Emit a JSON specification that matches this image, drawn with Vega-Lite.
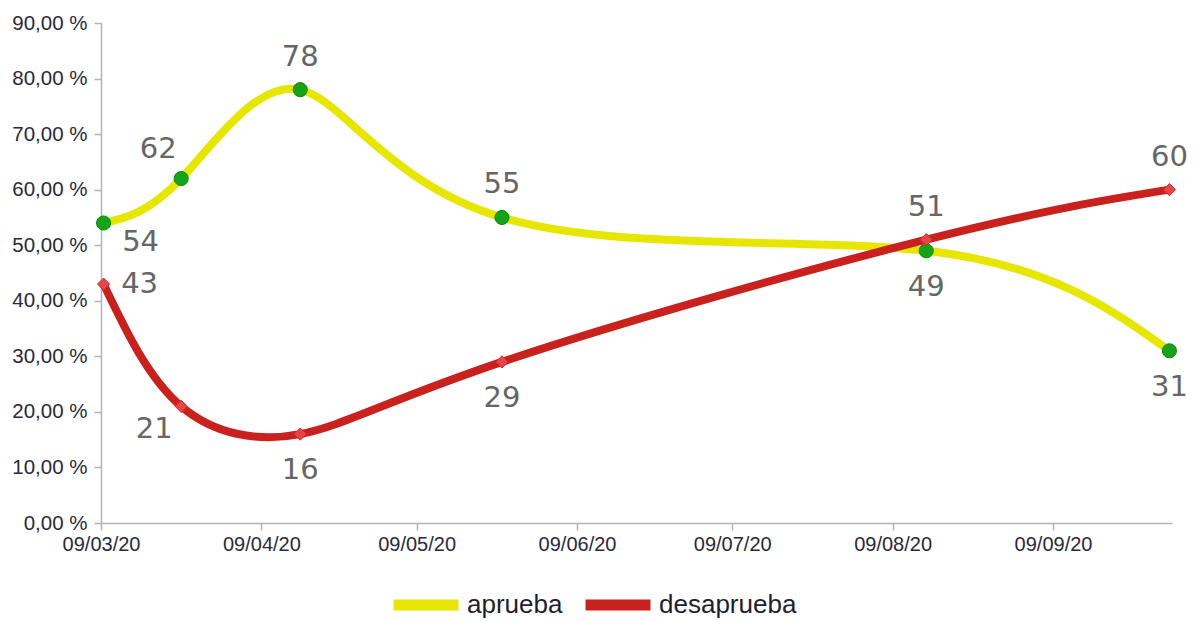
{
  "$schema": "https://vega.github.io/schema/vega-lite/v6.json",
  "width": 1071,
  "height": 500,
  "autosize": "none",
  "padding": {"left": 101, "top": 23, "right": 27, "bottom": 98},
  "background": "white",
  "data": {
    "values": [
      {"fecha": "2020-03-09T12:00:00Z", "serie": "aprueba", "valor": 54},
      {"fecha": "2020-03-24T12:00:00Z", "serie": "aprueba", "valor": 62},
      {"fecha": "2020-04-16T12:00:00Z", "serie": "aprueba", "valor": 78},
      {"fecha": "2020-05-25T12:00:00Z", "serie": "aprueba", "valor": 55},
      {"fecha": "2020-08-15T12:00:00Z", "serie": "aprueba", "valor": 49},
      {"fecha": "2020-10-01T12:00:00Z", "serie": "aprueba", "valor": 31},
      {"fecha": "2020-03-09T12:00:00Z", "serie": "desaprueba", "valor": 43},
      {"fecha": "2020-03-24T12:00:00Z", "serie": "desaprueba", "valor": 21},
      {"fecha": "2020-04-16T12:00:00Z", "serie": "desaprueba", "valor": 16},
      {"fecha": "2020-05-25T12:00:00Z", "serie": "desaprueba", "valor": 29},
      {"fecha": "2020-08-15T12:00:00Z", "serie": "desaprueba", "valor": 51},
      {"fecha": "2020-10-01T12:00:00Z", "serie": "desaprueba", "valor": 60}
    ]
  },
  "encoding": {
    "x": {
      "field": "fecha",
      "type": "temporal",
      "scale": {
        "type": "utc",
        "domain": [
          {"year": 2020, "month": 3, "date": 9, "utc": true},
          {"year": 2020, "month": 10, "date": 2, "utc": true}
        ]
      },
      "axis": {
        "title": null,
        "grid": false,
        "values": [
          {"year": 2020, "month": 3, "date": 9, "utc": true},
          {"year": 2020, "month": 4, "date": 9, "utc": true},
          {"year": 2020, "month": 5, "date": 9, "utc": true},
          {"year": 2020, "month": 6, "date": 9, "utc": true},
          {"year": 2020, "month": 7, "date": 9, "utc": true},
          {"year": 2020, "month": 8, "date": 9, "utc": true},
          {"year": 2020, "month": 9, "date": 9, "utc": true}
        ],
        "labelExpr": "utcFormat(datum.value, '%d/%m/%y')",
        "labelFlush": false,
        "labelOverlap": false,
        "domainColor": "#b3b3b3",
        "domainWidth": 1.5,
        "tickColor": "#b3b3b3",
        "tickWidth": 1.5,
        "tickSize": 7,
        "labelPadding": 4,
        "labelFont": "Liberation Sans",
        "labelFontSize": 20,
        "labelColor": "#2a2a3a"
      }
    },
    "y": {
      "field": "valor",
      "type": "quantitative",
      "scale": {"domain": [0, 90]},
      "axis": {
        "title": null,
        "grid": false,
        "values": [0, 10, 20, 30, 40, 50, 60, 70, 80, 90],
        "labelExpr": "replace(format(datum.value, '.2f'), '.', ',') + ' %'",
        "domainColor": "#b3b3b3",
        "domainWidth": 1.5,
        "tickColor": "#b3b3b3",
        "tickWidth": 1.5,
        "tickSize": 7,
        "labelPadding": 7,
        "labelFont": "Liberation Sans",
        "labelFontSize": 20.5,
        "labelColor": "#2a2a3a"
      }
    }
  },
  "layer": [
    {
      "mark": {"type": "line", "interpolate": "natural", "strokeWidth": 8},
      "encoding": {
        "color": {
          "field": "serie",
          "type": "nominal",
          "scale": {"domain": ["aprueba", "desaprueba"], "range": ["#e6e600", "#c9211e"]},
          "legend": {
            "title": null,
            "orient": "none",
            "legendX": 287,
            "legendY": 544,
            "direction": "horizontal",
            "gridAlign": "none",
            "symbolType": "stroke",
            "symbolSize": 4225,
            "symbolStrokeWidth": 11,
            "labelFont": "Liberation Sans",
            "labelFontSize": 26,
            "labelColor": "#1e1e30",
            "labelOffset": 3,
            "labelLimit": 0,
            "columnPadding": 0,
            "encode": {
              "symbols": {
                "update": {
                  "strokeCap": {"value": "butt"}
                }
              }
            }
          }
        }
      }
    },
    {
      "transform": [{"filter": "datum.serie === 'aprueba'"}],
      "mark": {"type": "point", "shape": "circle", "filled": true, "size": 200, "fill": "#17a317", "stroke": "#0c8a0c", "strokeWidth": 1, "opacity": 1}
    },
    {
      "transform": [{"filter": "datum.serie === 'desaprueba'"}],
      "mark": {"type": "point", "shape": "diamond", "filled": true, "size": 150, "fill": "#e6454a", "stroke": "#d42a2e", "strokeWidth": 1, "opacity": 1}
    },
    {
      "transform": [{"filter": {"field": "valor", "oneOf": [78, 55, 51, 60]}}],
      "mark": {"type": "text", "dy": -33, "font": "DejaVu Sans", "fontSize": 29, "fill": "#666666"},
      "encoding": {"text": {"field": "valor", "type": "quantitative"}}
    },
    {
      "transform": [{"filter": {"field": "valor", "oneOf": [62]}}],
      "mark": {"type": "text", "dx": -23, "dy": -30, "font": "DejaVu Sans", "fontSize": 29, "fill": "#666666"},
      "encoding": {"text": {"field": "valor", "type": "quantitative"}}
    },
    {
      "transform": [{"filter": {"field": "valor", "oneOf": [49, 31, 16, 29]}}],
      "mark": {"type": "text", "dy": 36, "font": "DejaVu Sans", "fontSize": 29, "fill": "#666666"},
      "encoding": {"text": {"field": "valor", "type": "quantitative"}}
    },
    {
      "transform": [{"filter": {"field": "valor", "oneOf": [54]}}],
      "mark": {"type": "text", "dx": 37, "dy": 19, "font": "DejaVu Sans", "fontSize": 29, "fill": "#666666"},
      "encoding": {"text": {"field": "valor", "type": "quantitative"}}
    },
    {
      "transform": [{"filter": {"field": "valor", "oneOf": [43]}}],
      "mark": {"type": "text", "dx": 36, "dy": 0, "font": "DejaVu Sans", "fontSize": 29, "fill": "#666666"},
      "encoding": {"text": {"field": "valor", "type": "quantitative"}}
    },
    {
      "transform": [{"filter": {"field": "valor", "oneOf": [21]}}],
      "mark": {"type": "text", "dx": -27, "dy": 23, "font": "DejaVu Sans", "fontSize": 29, "fill": "#666666"},
      "encoding": {"text": {"field": "valor", "type": "quantitative"}}
    }
  ],
  "config": {
    "view": {"stroke": null},
    "text": {"align": "center", "baseline": "middle"}
  }
}
